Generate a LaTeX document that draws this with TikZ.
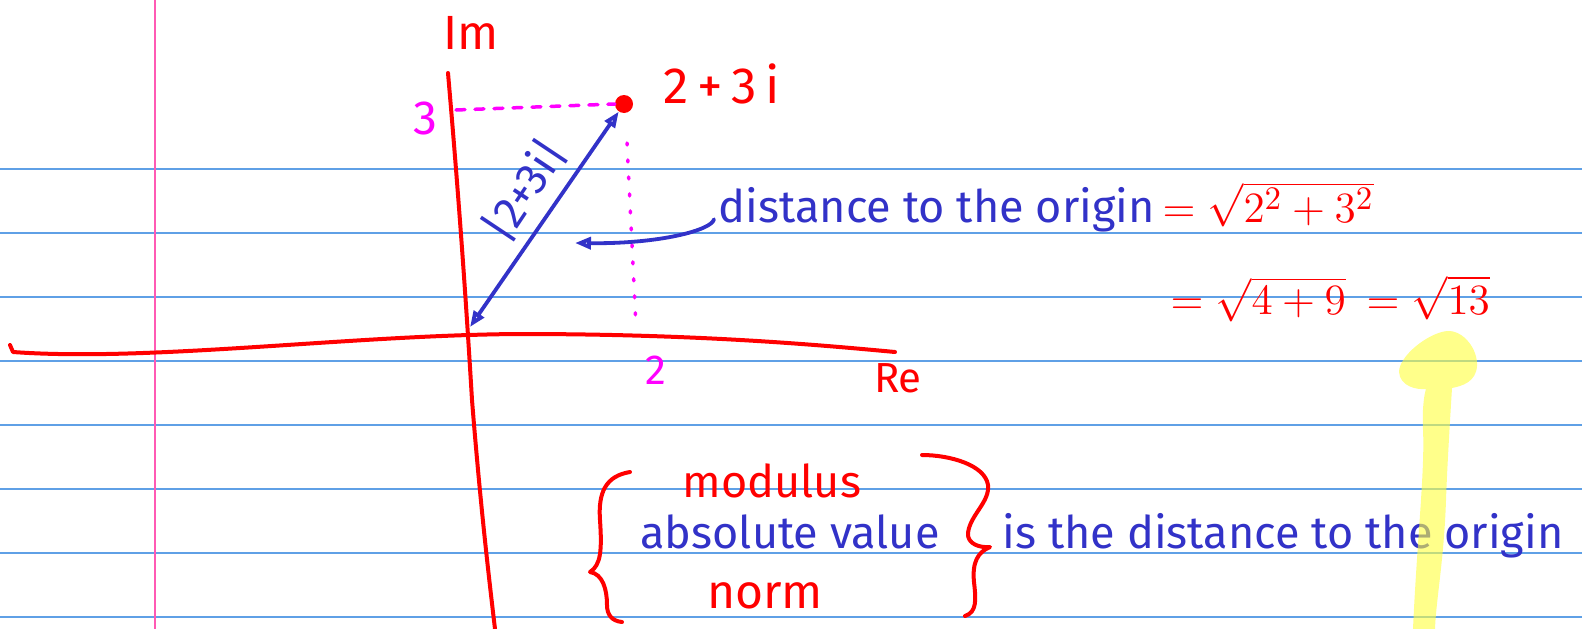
\documentclass[tikz,border=0pt]{standalone}
\usepackage{fontspec}
\setmainfont{Fira Sans}
\usetikzlibrary{arrows.meta}
\definecolor{ruleblue}{RGB}{95,160,230}
\definecolor{marginpink}{RGB}{255,90,180}
\definecolor{penred}{RGB}{255,0,0}
\definecolor{penblue}{RGB}{50,50,200}
\definecolor{penmag}{RGB}{255,0,255}
\definecolor{hiyellow}{RGB}{255,255,60}
\begin{document}
\begin{tikzpicture}[x=1pt,y=-1pt,
  txt/.style={inner sep=0pt, scale=3},
  redtxt/.style={txt, text=penred},
  bluetxt/.style={txt, text=penblue},
  magtxt/.style={txt, text=penmag},
  pen/.style={line width=3.8pt, line cap=round, line join=round},
  redpen/.style={pen, draw=penred, line width=4pt},
  bluepen/.style={pen, draw=penblue},
  fs/.style={font=\fontsize{#1}{#1}\selectfont}
]
\useasboundingbox[fill=white] (0,0) rectangle (1582,629);
% ruled paper
\foreach \yy in {169,233,297,361,425,489,553,617}
  \draw[ruleblue, line width=1.8pt] (0,\yy) -- (1582,\yy);
\draw[marginpink, line width=2pt] (155,0) -- (155,629);

% axes
\draw[redpen] (10,345) -- (13,352) .. controls (150,362) and (350,335) .. (520,334)
   .. controls (700,334) and (820,345) .. (895,352);
\draw[redpen] (448,73) .. controls (459,200) and (466,300) .. (472,400)
   .. controls (480,500) and (488,570) .. (495,629);
\node[redtxt, fs=16] (im) at (471,33) {Im};
\node[redtxt, fs=14] (re) at (898,378) {Re};

% point
\coordinate (O) at (470,327);
\node[circle, fill=penred, minimum size=18pt, inner sep=0pt] (P) at (624,104) {};
\node[redtxt, fs=17] (plab) at (722,84) {2\,+\,3\,i};
\coordinate (Y3) at (456,110);
\coordinate (Vtop) at (627,143);
\coordinate (X2) at (636,326);
\draw[penmag, line width=3.5pt, line cap=round, dash pattern=on 9pt off 10pt] (Y3) -- (P.west);
\draw[penmag, line width=3.5pt, line cap=round, dash pattern=on 2pt off 15pt] (Vtop) -- (X2);
\node[magtxt, fs=16] (three) at (425,118) {3};
\node[magtxt, fs=14] (two) at (656,370) {2};

% modulus arrow
\draw[bluepen, {Triangle[open, length=16pt, width=12pt]}-{Triangle[open, length=16pt, width=12pt]}] (O) -- (P);
\node[bluetxt, fs=15, rotate=56.3] (mod) at (524,190) {|2+3i|};

% distance text and curved arrow
\node[bluetxt, fs=15, anchor=base west] (dist) at (718,222) {distance to the origin};
\coordinate (C1) at (575,243);
\draw[bluepen, -{Triangle[open, length=16pt, width=12pt]}] ([xshift=-4pt, yshift=-10pt]dist.west)
   .. controls (712,230) and (660,244) .. (C1);
\node[redtxt, fs=15, anchor=base west] (eq1) at (1162,222) {$=\sqrt{2^2+3^2}$};
\node[redtxt, fs=14, anchor=base west] (eq2) at (1170,314) {$=\sqrt{4+9}$};
\node[redtxt, fs=14, anchor=base west] (eq3) at (1366,314) {$=\sqrt{13}$};

% braces and names
\draw[redpen] (630,472) .. controls (606,476) and (598,492) .. (600,520)
   .. controls (602,550) and (601,565) .. (590,572)
   .. controls (603,574) and (607,590) .. (607,605)
   .. controls (607,615) and (612,621) .. (622,622);
\draw[redpen] (922,455) .. controls (950,455) and (985,465) .. (988,485)
   .. controls (990,502) and (970,515) .. (968,533)
   .. controls (967,544) and (980,548) .. (990,547)
   .. controls (978,552) and (972,562) .. (974,582)
   .. controls (976,600) and (977,612) .. (965,616);
\node[redtxt, fs=15, anchor=base] (modulus) at (772,497) {modulus};
\node[bluetxt, fs=15, anchor=base] (absval) at (790,548) {absolute value};
\node[redtxt, fs=16, anchor=base] (norm) at (765,608) {norm};
\node[bluetxt, fs=15, anchor=base west] (isdist) at (1002,548) {is the distance to the origin};

% yellow highlighter arrow
\fill[hiyellow, opacity=0.6] (1413,629) .. controls (1417,540) and (1425,470) .. (1423,430)
   .. controls (1422,410) and (1424,395) .. (1426,389)
   .. controls (1416,390) and (1400,386) .. (1399,372)
   .. controls (1399,356) and (1428,333) .. (1447,331)
   .. controls (1464,330) and (1478,350) .. (1477,366)
   .. controls (1476,382) and (1462,386) .. (1452,388)
   .. controls (1450,420) and (1447,470) .. (1446,500)
   .. controls (1444,560) and (1436,600) .. (1435,629) -- cycle;
\end{tikzpicture}
\end{document}
